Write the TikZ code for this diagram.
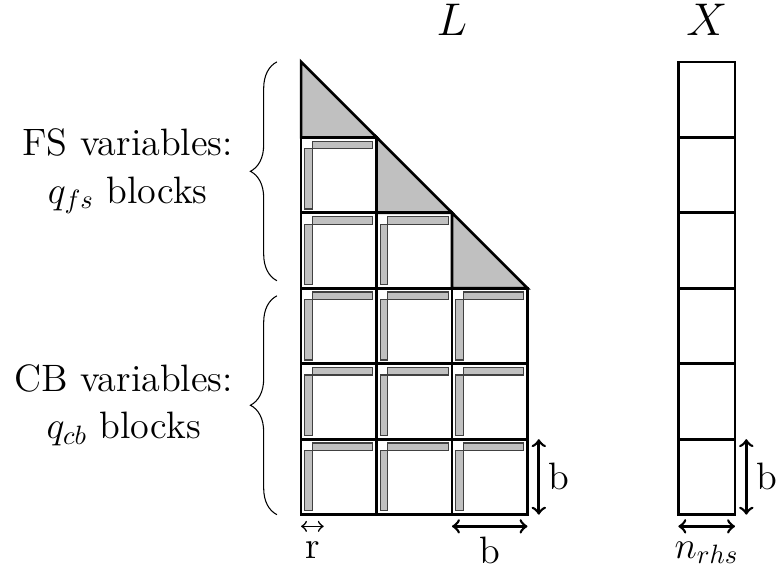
\documentclass[tikz,border=0pt]{standalone}
\usetikzlibrary{decorations.pathreplacing}
\definecolor{blockgray}{HTML}{C0C0C0}

\begin{document}
\begin{tikzpicture}[x=1cm, y=1cm, font=\Large,
  blockline/.style={line width=1pt},
  strip/.style={fill=blockgray, draw=black!75, line width=0.45pt},
  dimarrow/.style={line width=1pt, <->},
  bracebar/.style={decorate, decoration={brace, amplitude=10pt}}]
\useasboundingbox (-3.99,-0.70) rectangle (6.32,6.82);

% ============================================ diagonal blocks of L (FS part)
\foreach \j in {0,1,2}
  \fill[blockgray] (\j,6-\j) -- (\j,5-\j) -- (\j+1,5-\j) -- cycle;

% ===================================== the L-shaped strips in the full blocks
\foreach \c/\r in {0/4, 0/3, 1/3, 0/2, 1/2, 2/2, 0/1, 1/1, 2/1, 0/0, 1/0, 2/0} {
  \draw[strip] (\c+0.15,\r+0.85) rectangle (\c+0.95,\r+0.95);
  \draw[strip] (\c+0.05,\r+0.05) rectangle (\c+0.15,\r+0.85);
}

% ======================================================== block outlines
\foreach \c/\r in {0/4, 0/3, 1/3, 0/2, 1/2, 2/2, 0/1, 1/1, 2/1, 0/0, 1/0, 2/0}
  \draw[blockline] (\c,\r) rectangle ++(1,1);
\foreach \j in {0,1,2}
  \draw[blockline] (\j,6-\j) -- (\j,5-\j) -- (\j+1,5-\j) -- cycle;

% the right-hand sides
\foreach \r in {0,...,5}
  \draw[blockline] (5,\r) rectangle ++(0.75,1);

\node[anchor=base, font=\LARGE] (lname) at (2,6.35) {$L$};
\node[anchor=base, font=\LARGE] (xname) at (5.375,6.35) {$X$};

% ================================================================ braces
\draw[bracebar] (-0.32,3.1) -- (-0.32,6.0)
  node[midway, left=13pt, align=center] (fslbl) {FS variables:\\ $q_{fs}$ blocks};
\draw[bracebar] (-0.32,0.0) -- (-0.32,2.9)
  node[midway, left=13pt, align=center] (cblbl) {CB variables:\\ $q_{cb}$ blocks};

% ============================================================ dimensions
\draw[<->, semithick] (0,-0.155) -- (0.3,-0.155) node[midway, below=2pt] (rlbl) {r};
\draw[dimarrow] (2,-0.155) -- (3,-0.155) node[midway, below=0.3pt] (bwlbl) {b};
\draw[dimarrow] (3.15,0) -- (3.15,1) node[midway, right] (bhlbl) {b};
\draw[dimarrow] (5,-0.155) -- (5.75,-0.155) node[midway, below=2pt] (nlbl) {$n_{rhs}$};
\draw[dimarrow] (5.9,0) -- (5.9,1) node[midway, right] (bxlbl) {b};

\end{tikzpicture}
\end{document}
